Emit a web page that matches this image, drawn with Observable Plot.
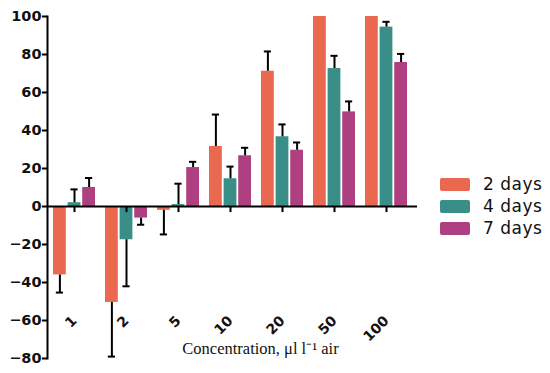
<!DOCTYPE html>
<html>
<head>
<meta charset="utf-8">
<script src="https://cdn.jsdelivr.net/npm/d3@7"></script>
<script src="https://cdn.jsdelivr.net/npm/@observablehq/plot@0.6"></script>
<style>
  body { margin: 0; background: #fff; }
  #wrap { position: relative; width: 550px; height: 373px; }
  #legend { position: absolute; left: 440px; top: 173px; font-family: "DejaVu Sans", sans-serif; font-size: 17px; color: #111; }
  .row { display: flex; align-items: center; height: 22px; }
  .sw { width: 30px; height: 13px; border-radius: 2px; margin-right: 13px; }
  .lab { letter-spacing: 0.5px; }
</style>
</head>
<body>
<div id="wrap"><div id="legend"></div></div>
<script>
const concentrations = ["1", "2", "5", "10", "20", "50", "100"];
const seriesNames = ["2 days", "4 days", "7 days"];
const seriesColors = ["#EA684F", "#398E87", "#AE4082"];
const mean2 = [-36, -50.5, -2, 31.6, 71.2, 100, 100];
const err2 = [9.3, 28.5, 12.7, 16.8, 10.4, 0, 0];
const mean4 = [2, -17.5, 1, 14.6, 36.7, 72.6, 94.4];
const err4 = [7, 24.5, 11, 6.4, 6.5, 6.7, 2.8];
const mean7 = [10, -6.1, 20.5, 26.7, 29.6, 49.8, 75.8];
const err7 = [5, 3.5, 3, 4.2, 4.1, 5.5, 4.5];
const yTicks = [-80, -60, -40, -20, 0, 20, 40, 60, 80, 100];
const xLabel = "Concentration, \u03bcl l\u207b\u00b9 air";

const means = [mean2, mean4, mean7];
const errs = [err2, err4, err7];
const rows = [];
seriesNames.forEach((s, k) => concentrations.forEach((c, i) => {
  const m = means[k][i], e = errs[k][i];
  rows.push({conc: c, series: s, k, mean: m, err: e, end: m + (m < 0 ? -e : e)});
}));

const width = 550, marginLeft = 47, marginRight = 137;
const step = (width - marginLeft - marginRight) / concentrations.length;
const bandwidth = step * 0.8;
const gap = 2;
const barW = (bandwidth - 2 * gap) / 3;
const off = barW + gap;
const capW = 7;

const marks = [];
seriesNames.forEach((s, k) => {
  const data = rows.filter(d => d.k === k);
  marks.push(Plot.barY(data, {x: "conc", y: "mean", fill: seriesColors[k], insetLeft: k * off, insetRight: (2 - k) * off}));
});
marks.push(Plot.ruleY([0], {stroke: "#000", strokeWidth: 2, insetRight: -4}));
marks.push(Plot.ruleX(concentrations, {x: d => d, y1: 0, y2: -3.2, stroke: "#000", strokeWidth: 2}));
seriesNames.forEach((s, k) => {
  const data = rows.filter(d => d.k === k && d.err > 0);
  const dx = (k - 1) * off;
  marks.push(Plot.ruleX(data, {x: "conc", y1: "mean", y2: "end", dx, stroke: "#000", strokeWidth: 2}));
  marks.push(Plot.tickY(data, {x: "conc", y: "end", dx, insetLeft: (bandwidth - capW) / 2, insetRight: (bandwidth - capW) / 2, stroke: "#000", strokeWidth: 2}));
});
marks.push(Plot.frame({anchor: "left", stroke: "#000", strokeWidth: 2}));
marks.push(Plot.axisY({ticks: yTicks, tickSize: 5, tickPadding: 1, label: null, fontSize: 14.5, fontWeight: "bold", strokeWidth: 2, stroke: "#000", fill: "#111", style: "letter-spacing:1px"}));
marks.push(Plot.axisX({anchor: "bottom", tickSize: 0, tickRotate: -45, tickPadding: -40, label: null, fontSize: 14, fontWeight: "bold", fill: "#111"}));
marks.push(Plot.text([xLabel], {text: d => d, frameAnchor: "bottom", dx: 30, dy: -5, fontFamily: "Liberation Serif", fontSize: 16.5, fill: "#111"}));

const chart = Plot.plot({
  width, height: 373,
  marginLeft, marginRight, marginTop: 16, marginBottom: 15,
  style: {fontFamily: "DejaVu Sans", background: "#fff"},
  x: {domain: concentrations, paddingInner: 0.2, paddingOuter: 0.1, axis: null},
  y: {domain: [-80, 100], axis: null},
  marks
});
document.getElementById("wrap").prepend(chart);

const legend = document.getElementById("legend");
seriesNames.forEach((s, k) => {
  const r = document.createElement("div");
  r.className = "row";
  r.innerHTML = `<span class="sw" style="background:${seriesColors[k]}"></span><span class="lab">${s}</span>`;
  legend.appendChild(r);
});
</script>
</body>
</html>
